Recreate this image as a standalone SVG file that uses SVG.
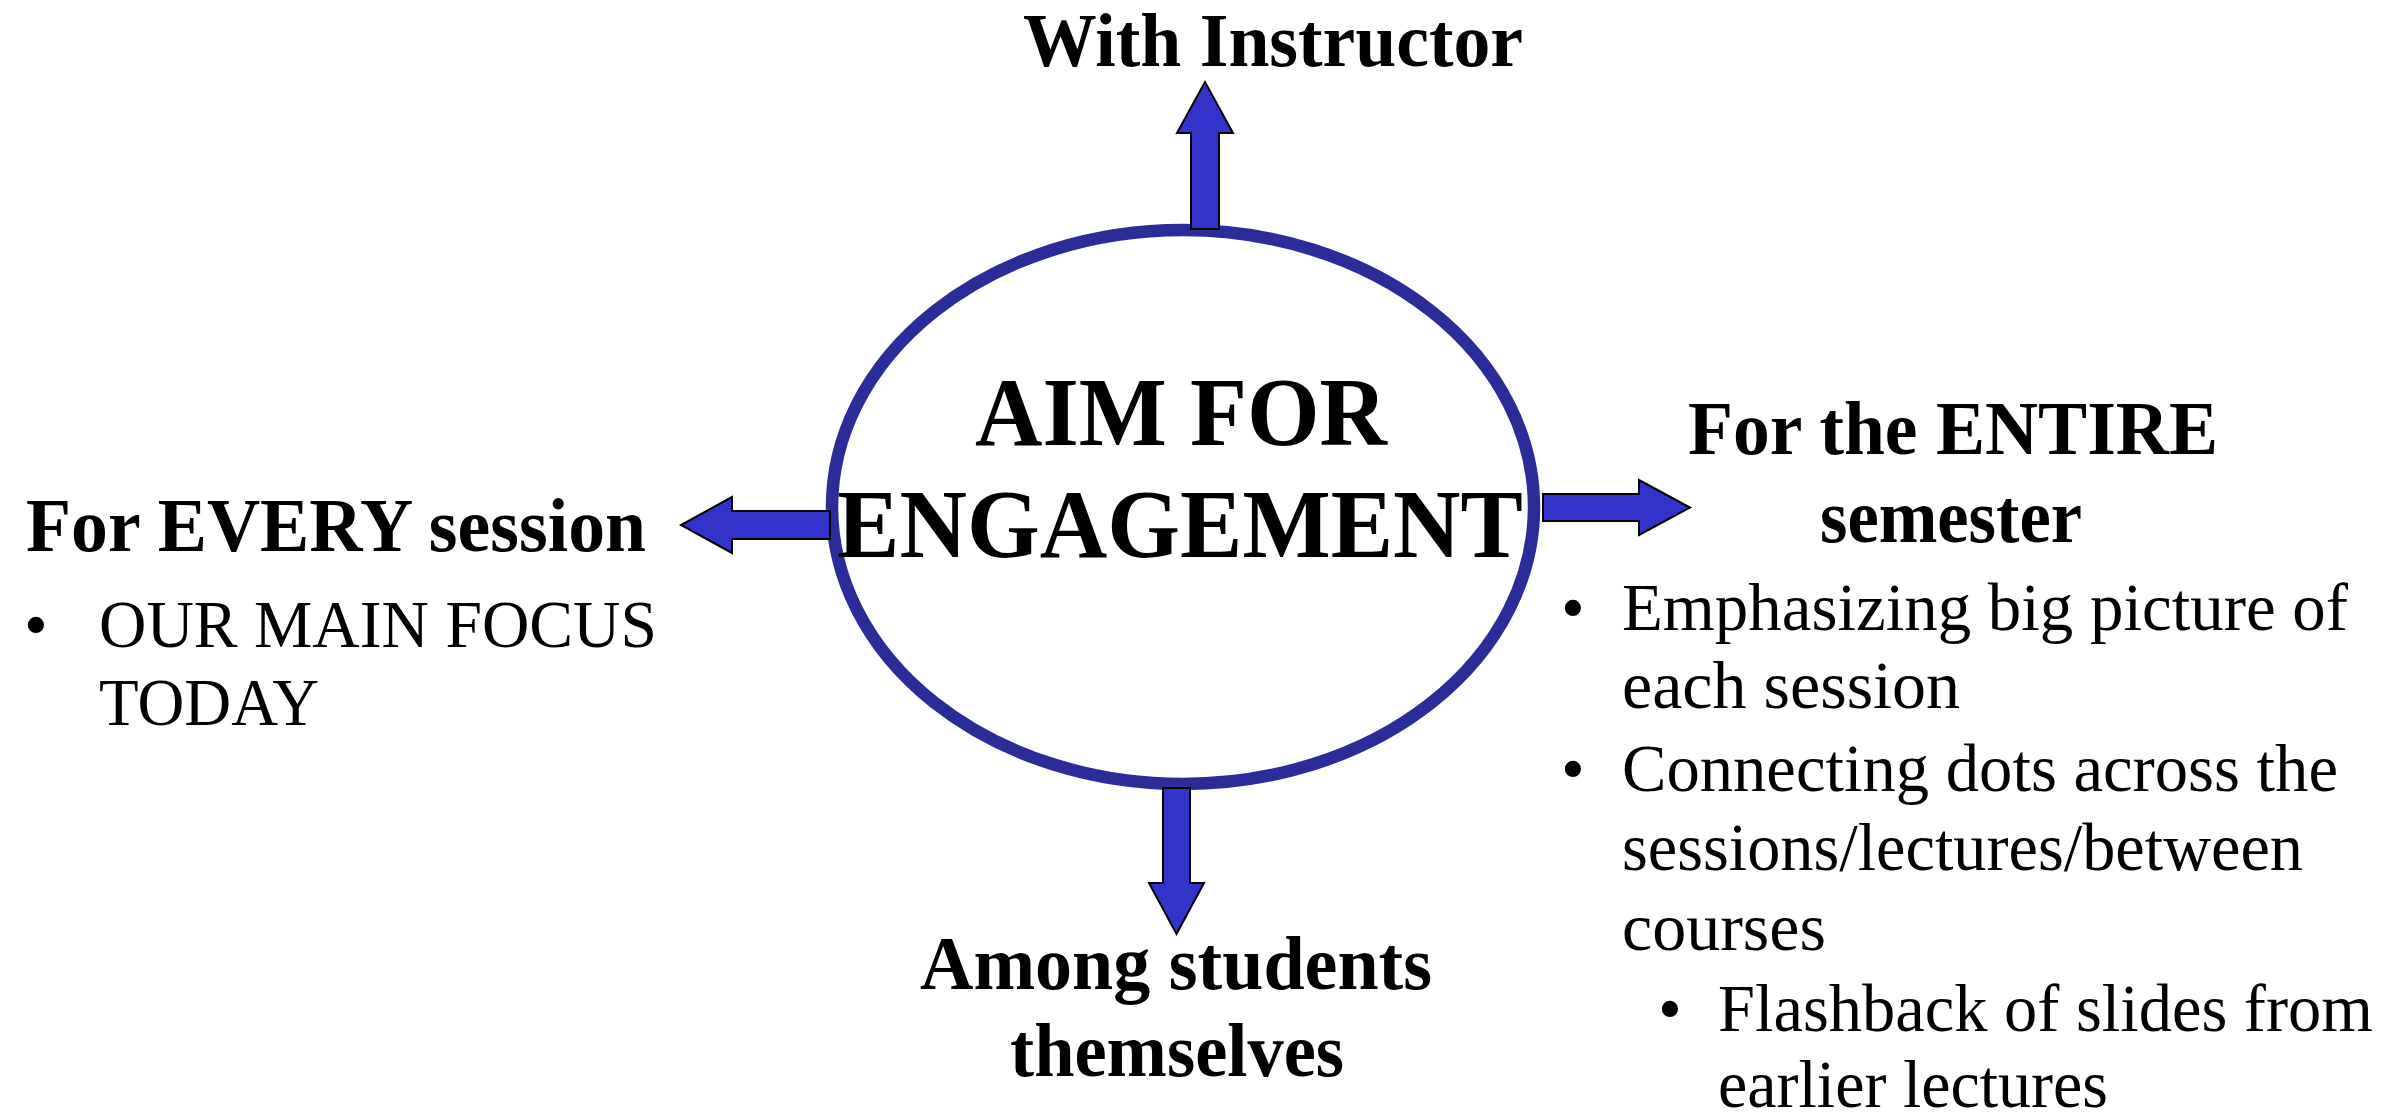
<svg xmlns="http://www.w3.org/2000/svg" width="2395" height="1117" viewBox="0 0 2395 1117">
<style>
.bold{font-family:"Liberation Serif","Times New Roman",serif;font-weight:bold;fill:#000}
.reg{font-family:"Liberation Serif","Times New Roman",serif;font-weight:normal;fill:#000;font-size:68px}
.h{font-size:76px}
.big{font-size:97px}
.arrow{fill:#3333CC;stroke:#000;stroke-width:2;stroke-linejoin:miter}
.ring{fill:none;stroke:#2B2B99;stroke-width:12.5}
</style>
<rect x="0" y="0" width="2395" height="1117" fill="#fff"/>
<g id="center">
<ellipse class="ring" cx="1183" cy="507" rx="351" ry="277"/>
</g>
<g id="connectors">
<polygon class="arrow" points="1191,229 1191,133 1177,133 1205,82 1233,133 1219,133 1219,229"/>
<polygon class="arrow" points="1163,788 1190,788 1190,883 1204,883 1176.5,934 1149,883 1163,883"/>
<polygon class="arrow" points="830,511 732,511 732,497 681,525 732,553 732,539 830,539"/>
<polygon class="arrow" points="1543,494 1639,494 1639,480 1690,507.5 1639,535 1639,521 1543,521"/>
</g>
<g id="center-label">
<text class="bold big" x="975" y="445" textLength="412" lengthAdjust="spacingAndGlyphs">AIM FOR</text>
<text class="bold big" x="837" y="557" textLength="686" lengthAdjust="spacingAndGlyphs">ENGAGEMENT</text>
</g>
<g id="top">
<text class="bold h" x="1023" y="66" textLength="500" lengthAdjust="spacingAndGlyphs">With Instructor</text>
</g>
<g id="left">
<text class="bold h" x="26" y="551" textLength="620" lengthAdjust="spacingAndGlyphs">For EVERY session</text>
<text class="reg" x="36" y="647" text-anchor="middle">•</text>
<text class="reg" x="99" y="647" textLength="558" lengthAdjust="spacingAndGlyphs">OUR MAIN FOCUS</text>
<text class="reg" x="99" y="725" textLength="220" lengthAdjust="spacingAndGlyphs">TODAY</text>
</g>
<g id="right">
<text class="bold h" x="1688" y="454" textLength="530" lengthAdjust="spacingAndGlyphs">For the ENTIRE</text>
<text class="bold h" x="1820" y="542" textLength="262" lengthAdjust="spacingAndGlyphs">semester</text>
<text class="reg" x="1573" y="630" text-anchor="middle">•</text>
<text class="reg" x="1622" y="630" textLength="726" lengthAdjust="spacingAndGlyphs">Emphasizing big picture of</text>
<text class="reg" x="1622" y="708">each session</text>
<text class="reg" x="1573" y="791" text-anchor="middle">•</text>
<text class="reg" x="1622" y="791" textLength="716" lengthAdjust="spacingAndGlyphs">Connecting dots across the</text>
<text class="reg" x="1622" y="870" textLength="681" lengthAdjust="spacingAndGlyphs">sessions/lectures/between</text>
<text class="reg" x="1622" y="950">courses</text>
<text class="reg" x="1670" y="1031" text-anchor="middle">•</text>
<text class="reg" x="1718" y="1031" textLength="655" lengthAdjust="spacingAndGlyphs">Flashback of slides from</text>
<text class="reg" x="1718" y="1107" textLength="390" lengthAdjust="spacingAndGlyphs">earlier lectures</text>
</g>
<g id="bottom">
<text class="bold h" x="920" y="989" textLength="512" lengthAdjust="spacingAndGlyphs">Among students</text>
<text class="bold h" x="1010" y="1076" textLength="334" lengthAdjust="spacingAndGlyphs">themselves</text>
</g>
</svg>
